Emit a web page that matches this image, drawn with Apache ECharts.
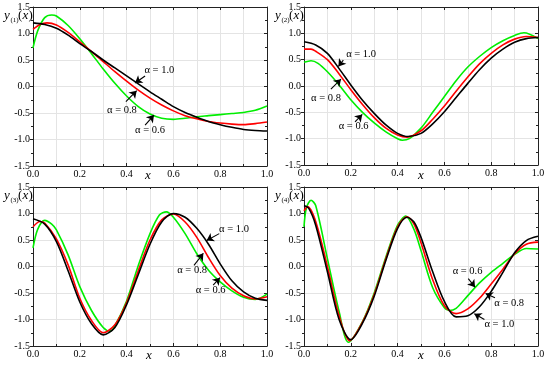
<!DOCTYPE html>
<html>
<head>
<meta charset="utf-8">
<script src="https://cdn.jsdelivr.net/npm/echarts@6/dist/echarts.min.js"></script>
<style>html,body{margin:0;padding:0;background:#fff}#c{width:550px;height:367px}</style>
</head>
<body>
<div id="c"></div>
<script>
// ---------- DATA ----------
const seriesNames = ['α = 1.0', 'α = 0.8', 'α = 0.6'];
const xTickLabels = ['0.0', '0.2', '0.4', '0.6', '0.8', '1.0'];
const yTickLabels = ['-1.5', '-1.0', '-0.5', '0.0', '0.5', '1.0', '1.5'];
const panelYNames = ['(1)', '(2)', '(3)', '(4)'];

// panel 1  y(1)(x)
const p1_a10 = [[0,1.2],[0.05,1.17],[0.1,1.1],[0.15,0.97],[0.2,0.81],[0.25,0.66],[0.3,0.5],[0.35,0.35],[0.4,0.2],[0.45,0.05],[0.5,-0.1],[0.55,-0.24],[0.6,-0.38],[0.65,-0.49],[0.7,-0.58],[0.75,-0.66],[0.8,-0.72],[0.85,-0.77],[0.9,-0.81],[0.95,-0.83],[1.0,-0.84]];
const p1_a08 = [[0,1.08],[0.03,1.17],[0.06,1.2],[0.1,1.16],[0.15,1.02],[0.2,0.84],[0.25,0.66],[0.3,0.47],[0.35,0.28],[0.4,0.1],[0.45,-0.07],[0.5,-0.22],[0.55,-0.35],[0.6,-0.46],[0.65,-0.55],[0.7,-0.61],[0.75,-0.66],[0.8,-0.69],[0.85,-0.71],[0.9,-0.72],[0.95,-0.7],[1.0,-0.67]];
const p1_a06 = [[0,0.73],[0.02,1.05],[0.05,1.3],[0.08,1.35],[0.1,1.33],[0.15,1.15],[0.2,0.9],[0.25,0.62],[0.3,0.33],[0.35,0.06],[0.4,-0.18],[0.45,-0.38],[0.5,-0.52],[0.55,-0.6],[0.6,-0.62],[0.65,-0.6],[0.7,-0.57],[0.75,-0.55],[0.8,-0.53],[0.85,-0.51],[0.9,-0.49],[0.95,-0.45],[1.0,-0.37]];

// panel 2  y(2)(x)
const p2_a10 = [[0,0.84],[0.05,0.78],[0.1,0.62],[0.15,0.33],[0.2,0.02],[0.25,-0.27],[0.3,-0.52],[0.35,-0.74],[0.4,-0.9],[0.445,-0.96],[0.5,-0.9],[0.55,-0.72],[0.6,-0.49],[0.65,-0.22],[0.7,0.05],[0.75,0.31],[0.8,0.53],[0.85,0.7],[0.9,0.83],[0.95,0.9],[1.0,0.92]];
const p2_a08 = [[0,0.7],[0.03,0.7],[0.05,0.66],[0.1,0.5],[0.15,0.23],[0.2,-0.07],[0.25,-0.35],[0.3,-0.6],[0.35,-0.8],[0.4,-0.93],[0.44,-0.97],[0.5,-0.85],[0.55,-0.63],[0.6,-0.38],[0.65,-0.1],[0.7,0.17],[0.75,0.42],[0.8,0.62],[0.85,0.78],[0.9,0.89],[0.95,0.94],[1.0,0.92]];
const p2_a06 = [[0,0.45],[0.03,0.48],[0.06,0.43],[0.1,0.27],[0.15,0.02],[0.2,-0.26],[0.25,-0.5],[0.3,-0.7],[0.35,-0.87],[0.4,-1.0],[0.42,-1.03],[0.45,-1.0],[0.5,-0.8],[0.55,-0.5],[0.6,-0.2],[0.65,0.1],[0.7,0.36],[0.75,0.56],[0.8,0.73],[0.85,0.86],[0.9,0.96],[0.94,1.01],[1.0,0.9]];

// panel 3  y(3)(x)
const p3_a10 = [[0,0.9],[0.05,0.8],[0.1,0.47],[0.15,-0.08],[0.2,-0.67],[0.25,-1.08],[0.3,-1.29],[0.35,-1.15],[0.4,-0.72],[0.45,-0.15],[0.5,0.42],[0.55,0.84],[0.6,1.0],[0.65,0.93],[0.7,0.72],[0.75,0.42],[0.8,0.05],[0.85,-0.27],[0.9,-0.48],[0.95,-0.6],[1.0,-0.64]];
const p3_a08 = [[0,0.75],[0.03,0.85],[0.05,0.82],[0.1,0.52],[0.15,0.03],[0.2,-0.6],[0.25,-1.02],[0.3,-1.25],[0.35,-1.1],[0.4,-0.68],[0.45,-0.08],[0.5,0.5],[0.55,0.88],[0.6,0.99],[0.65,0.84],[0.7,0.55],[0.75,0.17],[0.8,-0.17],[0.85,-0.41],[0.9,-0.55],[0.95,-0.61],[1.0,-0.57]];
const p3_a06 = [[0,0.35],[0.02,0.7],[0.05,0.87],[0.08,0.8],[0.1,0.69],[0.15,0.22],[0.2,-0.38],[0.25,-0.83],[0.3,-1.15],[0.33,-1.22],[0.35,-1.12],[0.4,-0.65],[0.45,0.02],[0.5,0.62],[0.54,0.97],[0.57,1.03],[0.6,0.93],[0.65,0.62],[0.7,0.24],[0.75,-0.07],[0.8,-0.29],[0.85,-0.46],[0.9,-0.58],[0.95,-0.62],[1.0,-0.52]];

// panel 4  y(4)(x)
const p4_a10 = [[0,1.15],[0.02,1.1],[0.05,0.78],[0.1,-0.1],[0.15,-1.0],[0.2,-1.38],[0.25,-1.07],[0.3,-0.56],[0.35,0.12],[0.4,0.72],[0.44,0.93],[0.47,0.84],[0.5,0.55],[0.55,-0.1],[0.6,-0.66],[0.65,-0.95],[0.7,-0.93],[0.75,-0.76],[0.8,-0.47],[0.85,-0.11],[0.9,0.26],[0.95,0.49],[1.0,0.57]];
const p4_a08 = [[0,1.05],[0.015,1.13],[0.05,0.85],[0.1,0.0],[0.15,-0.93],[0.195,-1.4],[0.25,-1.05],[0.3,-0.53],[0.35,0.15],[0.4,0.75],[0.44,0.94],[0.47,0.8],[0.5,0.45],[0.55,-0.25],[0.6,-0.74],[0.65,-0.89],[0.7,-0.8],[0.75,-0.6],[0.8,-0.33],[0.85,-0.05],[0.9,0.24],[0.95,0.42],[1.0,0.46]];
const p4_a06 = [[0,0.75],[0.01,1.1],[0.03,1.25],[0.05,1.15],[0.1,0.15],[0.15,-0.85],[0.19,-1.43],[0.25,-1.04],[0.3,-0.5],[0.35,0.18],[0.4,0.78],[0.435,0.95],[0.47,0.7],[0.5,0.3],[0.55,-0.4],[0.6,-0.78],[0.62,-0.83],[0.65,-0.79],[0.7,-0.55],[0.75,-0.31],[0.8,-0.11],[0.85,0.06],[0.9,0.23],[0.95,0.34],[1.0,0.33]];

// annotations: [label, textX, textY, arrowFromX, arrowFromY, arrowToX, arrowToY] (data coords)
const p1_notes = [['α = 1.0',0.54,0.30,0.479,0.198,0.436,0.066],['α = 0.8',0.38,-0.44,0.397,-0.287,0.443,-0.079],['α = 0.6',0.50,-0.82,0.479,-0.73,0.517,-0.54]];
const p2_notes = [['α = 1.0',0.244,0.60,0.168,0.49,0.147,0.37],['α = 0.8',0.094,-0.23,0.115,-0.06,0.158,0.13],['α = 0.6',0.212,-0.77,0.218,-0.68,0.249,-0.54]];
const p3_notes = [['α = 1.0',0.859,0.70,0.796,0.62,0.742,0.49],['α = 0.8',0.68,-0.07,0.688,0.02,0.728,0.25],['α = 0.6',0.759,-0.44,0.77,-0.35,0.799,-0.21]];
const p4_notes = [['α = 0.6',0.699,-0.085,0.702,-0.23,0.731,-0.39],['α = 0.8',0.877,-0.69,0.816,-0.59,0.776,-0.51],['α = 1.0',0.835,-1.09,0.771,-1.0,0.728,-0.89]];

const panelSeries = [[p1_a10,p1_a08,p1_a06],[p2_a10,p2_a08,p2_a06],[p3_a10,p3_a08,p3_a06],[p4_a10,p4_a08,p4_a06]];
const panelNotes = [p1_notes,p2_notes,p3_notes,p4_notes];

// ---------- LAYOUT / STYLE ----------
const FONT = '"Liberation Serif","Times New Roman",serif';
const colors = ['#000000', '#ff0000', '#00ee00'];
const grids = [
  {left:33, top:7, width:234, height:159},
  {left:304, top:7, width:234, height:158},
  {left:33, top:187, width:234, height:159},
  {left:304, top:187, width:234, height:159}
];
const yNamePos = [[4,18],[275,18],[4,198],[275,198]];
const xNamePos = [[148,176],[421,176],[149,356],[421,356]];

const xAxes = [], yAxes = [], series = [], graphics = [];
grids.forEach((g, i) => {
  const gridLine = {show:true, lineStyle:{color:'#e4e4e4', width:1}};
  xAxes.push({
    gridIndex:i, type:'value', min:0, max:1, interval:0.2, position:'bottom',
    axisLine:{show:true, onZero:false, lineStyle:{color:'#222', width:1}},
    axisTick:{show:true, inside:true, length:3, lineStyle:{color:'#222'}},
    minorTick:{show:true, splitNumber:2, length:2, lineStyle:{color:'#222'}},
    axisLabel:{fontFamily:FONT, fontSize:10, color:'#000', margin:3,
      formatter:v => xTickLabels[Math.round(v/0.2)]},
    splitLine:gridLine, minorSplitLine:gridLine
  });
  xAxes.push({
    gridIndex:i, type:'value', min:0, max:1, interval:0.2, position:'top',
    axisLine:{show:true, onZero:false, lineStyle:{color:'#222', width:1}},
    axisTick:{show:true, inside:true, length:3, lineStyle:{color:'#222'}},
    minorTick:{show:true, splitNumber:2, length:2, lineStyle:{color:'#222'}},
    axisLabel:{show:false}, splitLine:{show:false}
  });
  yAxes.push({
    gridIndex:i, type:'value', min:-1.5, max:1.5, interval:0.5, position:'left',
    axisLine:{show:true, onZero:false, lineStyle:{color:'#222', width:1}},
    axisTick:{show:true, inside:false, length:3, lineStyle:{color:'#222'}},
    minorTick:{show:true, splitNumber:2, length:2, lineStyle:{color:'#222'}},
    axisLabel:{fontFamily:FONT, fontSize:10, color:'#000', margin:3,
      formatter:v => yTickLabels[Math.round((v+1.5)/0.5)]},
    splitLine:gridLine
  });
  yAxes.push({
    gridIndex:i, type:'value', min:-1.5, max:1.5, interval:0.5, position:'right',
    axisLine:{show:true, onZero:false, lineStyle:{color:'#222', width:1}},
    axisTick:{show:true, inside:true, length:3, lineStyle:{color:'#222'}},
    minorTick:{show:true, splitNumber:2, length:2, lineStyle:{color:'#222'}},
    axisLabel:{show:false}, splitLine:{show:false}
  });

  // curves: green, red, then black on top
  [2,1,0].forEach(k => {
    const s = {
      type:'line', name:seriesNames[k], xAxisIndex:2*i, yAxisIndex:2*i,
      data:panelSeries[i][k], smooth:0.3, showSymbol:false, symbol:'none',
      lineStyle:{color:colors[k], width:1.6}, silent:true, animation:false, z:3+(2-k)
    };
    if (k === 0) {
      const notes = panelNotes[i];
      s.markLine = {
        silent:true, animation:false, symbol:['none','arrow'], symbolSize:7,
        lineStyle:{color:'#000', width:1.1, type:'solid'}, label:{show:false},
        data: notes.map(n => [{coord:[n[3], n[4]]}, {coord:[n[5], n[6]]}])
      };
      s.markPoint = {
        silent:true, animation:false, symbol:'circle', symbolSize:0,
        label:{show:true, position:'inside', color:'#000', fontFamily:FONT, fontSize:10.5,
          formatter:p => p.name},
        data: notes.map(n => ({name:n[0], coord:[n[1], n[2]]}))
      };
    }
    series.push(s);
  });

  // y-axis name  y(n)(x)
  const [lx, ly] = yNamePos[i];
  graphics.push({
    type:'group', left:lx, top:ly-9, z:100,
    children:[
      {type:'text', x:0, y:0, style:{text:'y', font:'italic 13px ' + FONT, fill:'#000'}},
      {type:'text', x:6.5, y:8, style:{text:panelYNames[i], font:'7px ' + FONT, fill:'#000'}},
      {type:'text', x:14, y:0, style:{text:'(', font:'13px ' + FONT, fill:'#000'}},
      {type:'text', x:18.5, y:0, style:{text:'x', font:'italic 13px ' + FONT, fill:'#000'}},
      {type:'text', x:24.5, y:0, style:{text:')', font:'13px ' + FONT, fill:'#000'}}
    ]
  });
  // x-axis name
  const [nx, ny] = xNamePos[i];
  graphics.push({
    type:'text', x:nx, y:ny, z:100,
    style:{text:'x', font:'italic 13px ' + FONT, fill:'#000', align:'center', verticalAlign:'middle'}
  });
});

const chart = echarts.init(document.getElementById('c'), null, {renderer:'canvas'});
chart.setOption({
  backgroundColor:'#ffffff',
  animation:false,
  grid:grids.map(g => Object.assign({containLabel:false}, g)),
  xAxis:xAxes,
  yAxis:yAxes,
  series:series,
  graphic:graphics
});
</script>
</body>
</html>
